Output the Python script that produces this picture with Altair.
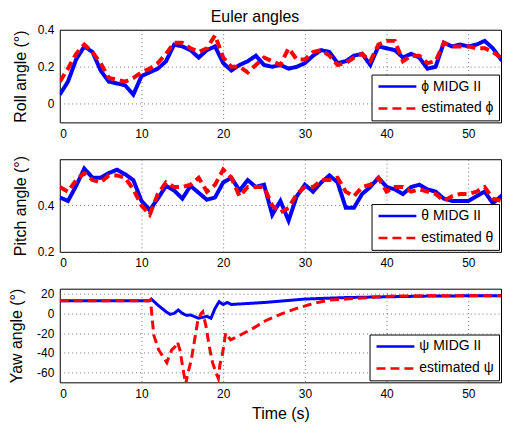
import altair as alt
import pandas as pd

# ---------------- data ----------------
time_s = list(range(0, 56))

roll_midg = [0.05, 0.12, 0.24, 0.31, 0.28, 0.18, 0.12, 0.11, 0.10, 0.05,
             0.15, 0.17, 0.19, 0.23, 0.32, 0.31, 0.29, 0.25, 0.29, 0.31,
             0.22, 0.18, 0.21, 0.23, 0.26, 0.21, 0.20, 0.21, 0.19, 0.20,
             0.22, 0.26, 0.29, 0.28, 0.22, 0.23, 0.26, 0.27, 0.21, 0.31,
             0.30, 0.29, 0.25, 0.27, 0.25, 0.19, 0.20, 0.33, 0.31, 0.32,
             0.31, 0.32, 0.34, 0.30, 0.24, 0.26]
roll_est = [0.12, 0.19, 0.27, 0.32, 0.28, 0.22, 0.14, 0.13, 0.12, 0.14,
            0.17, 0.19, 0.22, 0.27, 0.33, 0.33, 0.30, 0.28, 0.30, 0.37,
            0.25, 0.20, 0.20, 0.17, 0.21, 0.25, 0.23, 0.21, 0.30, 0.24,
            0.24, 0.28, 0.29, 0.26, 0.21, 0.22, 0.25, 0.27, 0.23, 0.32,
            0.34, 0.34, 0.23, 0.26, 0.26, 0.22, 0.23, 0.33, 0.31, 0.31,
            0.31, 0.30, 0.30, 0.28, 0.25, 0.25]

pitch_midg = [0.435, 0.42, 0.485, 0.56, 0.52, 0.52, 0.54, 0.555, 0.535, 0.51,
              0.42, 0.38, 0.43, 0.485, 0.465, 0.43, 0.485, 0.455, 0.425, 0.435,
              0.50, 0.52, 0.465, 0.51, 0.48, 0.49, 0.36, 0.42, 0.335, 0.44,
              0.49, 0.46, 0.50, 0.53, 0.50, 0.39, 0.39, 0.45, 0.48, 0.52,
              0.48, 0.47, 0.45, 0.48, 0.49, 0.47, 0.46, 0.43, 0.42, 0.42,
              0.42, 0.44, 0.46, 0.41, 0.44, 0.48]
pitch_est = [0.48, 0.46, 0.51, 0.54, 0.51, 0.50, 0.53, 0.53, 0.52, 0.47,
             0.40, 0.36, 0.45, 0.50, 0.48, 0.48, 0.49, 0.52, 0.46, 0.49,
             0.555, 0.52, 0.44, 0.48, 0.48, 0.48, 0.40, 0.37, 0.39, 0.45,
             0.48, 0.48, 0.51, 0.51, 0.52, 0.46, 0.44, 0.48, 0.49, 0.52,
             0.46, 0.48, 0.48, 0.46, 0.47, 0.46, 0.45, 0.42, 0.44, 0.45,
             0.45, 0.46, 0.48, 0.43, 0.42, 0.47]

yaw_midg_t = [0, 11, 11.2, 12, 13, 13.5, 14, 14.5, 15, 15.5, 16, 17, 17.5, 18,
              18.5, 19, 19.5, 20, 20.5, 21, 22, 25, 30, 35, 40, 45, 50, 55]
yaw_midg = [12.8, 12.8, 14.5, 8.4, 1.7, -1, 0, 3.4, 0, -2, -1.7, -5, -4, -3,
            -5, 5, 11.8, 9, 11, 9, 9.5, 11, 14.5, 16, 16.8, 17.5, 17.8, 18]
yaw_est_t = [0, 11, 11.1, 11.5, 12.1, 13.1, 13.7, 14.1, 14.4, 14.7, 15.1, 15.4,
             15.7, 16.1, 16.5, 16.9, 17.3, 17.5, 17.9, 18.3, 18.7, 19.1, 19.4,
             19.6, 19.9, 20.3, 20.9, 22.1, 23.7, 25.3, 27.3, 29, 31, 33, 35, 37,
             39, 41, 45, 50, 55]
yaw_est = [12.8, 12.8, 13.5, -22, -37, -50, -37, -34, -29, -37, -57, -72,
           -60, -47, -27, -7, 0, 1.7, -13.5, -34, -50, -60, -66,
           -52, -42, -20, -27, -22, -15, -7, 0, 5, 10, 13.5, 14.5, 15.5,
           16.8, 17.5, 17.8, 17.8, 17.8]

x_ticks = [0, 10, 20, 30, 40, 50]
roll_ticks = [0, 0.2, 0.4]
pitch_ticks = [0.2, 0.4]
yaw_ticks = [-60, -40, -20, 0, 20]

roll_names = ["\u03d5 MIDG II", "estimated \u03d5"]
pitch_names = ["\u03b8 MIDG II", "estimated \u03b8"]
yaw_names = ["\u03c8 MIDG II", "estimated \u03c8"]

BLUE = "#0000ff"
RED = "#ff0000"
FONT = "Liberation Sans"
PLOT_W = 443


def frame(t1, v1, t2, v2, names):
    a = pd.DataFrame({"t": t1, "v": v1, "series": names[0]})
    b = pd.DataFrame({"t": t2, "v": v2, "series": names[1]})
    return pd.concat([a, b], ignore_index=True)


def panel(df, names, ytitle, ydomain, yticks, label_expr, extent, tpad,
          height, xtitle=None, width=4):
    leg = alt.Legend(title=None, orient="bottom-right", offset=2,
                     fillColor="white", strokeColor="black", padding=5,
                     cornerRadius=0, labelFont=FONT, labelFontSize=14,
                     labelColor="black", symbolType="M-3.8,0H3.8", symbolSize=100,
                     symbolOffset=14, labelOffset=17,
                     symbolStrokeWidth=2.5, rowPadding=8)
    if xtitle:
        xaxis = alt.Axis(values=x_ticks, labelPadding=6, title=xtitle,
                         titlePadding=6)
    else:
        xaxis = alt.Axis(values=x_ticks, labelPadding=6, title=None)
    return alt.Chart(df).mark_line(clip=True, strokeWidth=width).encode(
        x=alt.X("t:Q", scale=alt.Scale(domain=[0, 54], nice=False, zero=False),
                axis=xaxis),
        y=alt.Y("v:Q", scale=alt.Scale(domain=ydomain, nice=False, zero=False),
                axis=alt.Axis(values=yticks, title=ytitle, labelExpr=label_expr,
                              minExtent=extent, maxExtent=extent,
                              titlePadding=tpad, labelPadding=6)),
        color=alt.Color("series:N", scale=alt.Scale(domain=names, range=[BLUE, RED]),
                        legend=leg),
        strokeDash=alt.StrokeDash("series:N",
                                  scale=alt.Scale(domain=names, range=[[1, 0], [9, 5]]),
                                  legend=leg),
    ).properties(width=PLOT_W, height=height)


dec_expr = "datum.value == 0 ? '0' : format(datum.value, '.1f')"
int_expr = "datum.value < 0 ? '-' + abs(datum.value) : '' + datum.value"

p1 = panel(frame(time_s, roll_midg, time_s, roll_est, roll_names), roll_names,
           "Roll angle (\u00b0)", [-0.1, 0.4], roll_ticks, dec_expr, 22, 9, 93)
p2 = panel(frame(time_s, pitch_midg, time_s, pitch_est, pitch_names), pitch_names,
           "Pitch angle (\u00b0)", [0.2, 0.6], pitch_ticks, dec_expr, 22, 9, 93)
p3 = panel(frame(yaw_midg_t, yaw_midg, yaw_est_t, yaw_est, yaw_names), yaw_names,
           "Yaw angle (\u00b0)", [-70, 25], yaw_ticks, int_expr, 27, 8, 94,
           xtitle="Time (s)", width=3)

chart = alt.vconcat(p1, p2, p3, spacing=37, bounds="flush").resolve_scale(
    color="independent", strokeDash="independent"
).properties(
    title=alt.TitleParams("Euler angles", font=FONT, fontSize=16,
                          fontWeight="normal", color="black", anchor="middle",
                          offset=-2),
    padding={"left": 0, "top": 0, "right": 0, "bottom": 0},
    background="white",
).configure_view(
    stroke="black", strokeWidth=1
).configure_axis(
    labelFont=FONT, labelFontSize=12, labelColor="black",
    titleFont=FONT, titleFontSize=16, titleFontWeight="normal", titleColor="black",
    ticks=False, domain=False,
    grid=True, gridColor="#555555", gridDash=[1, 3], gridWidth=1, gridOpacity=0.8,
)

chart.save("out.html", embed_options={"renderer": "svg", "actions": False})
